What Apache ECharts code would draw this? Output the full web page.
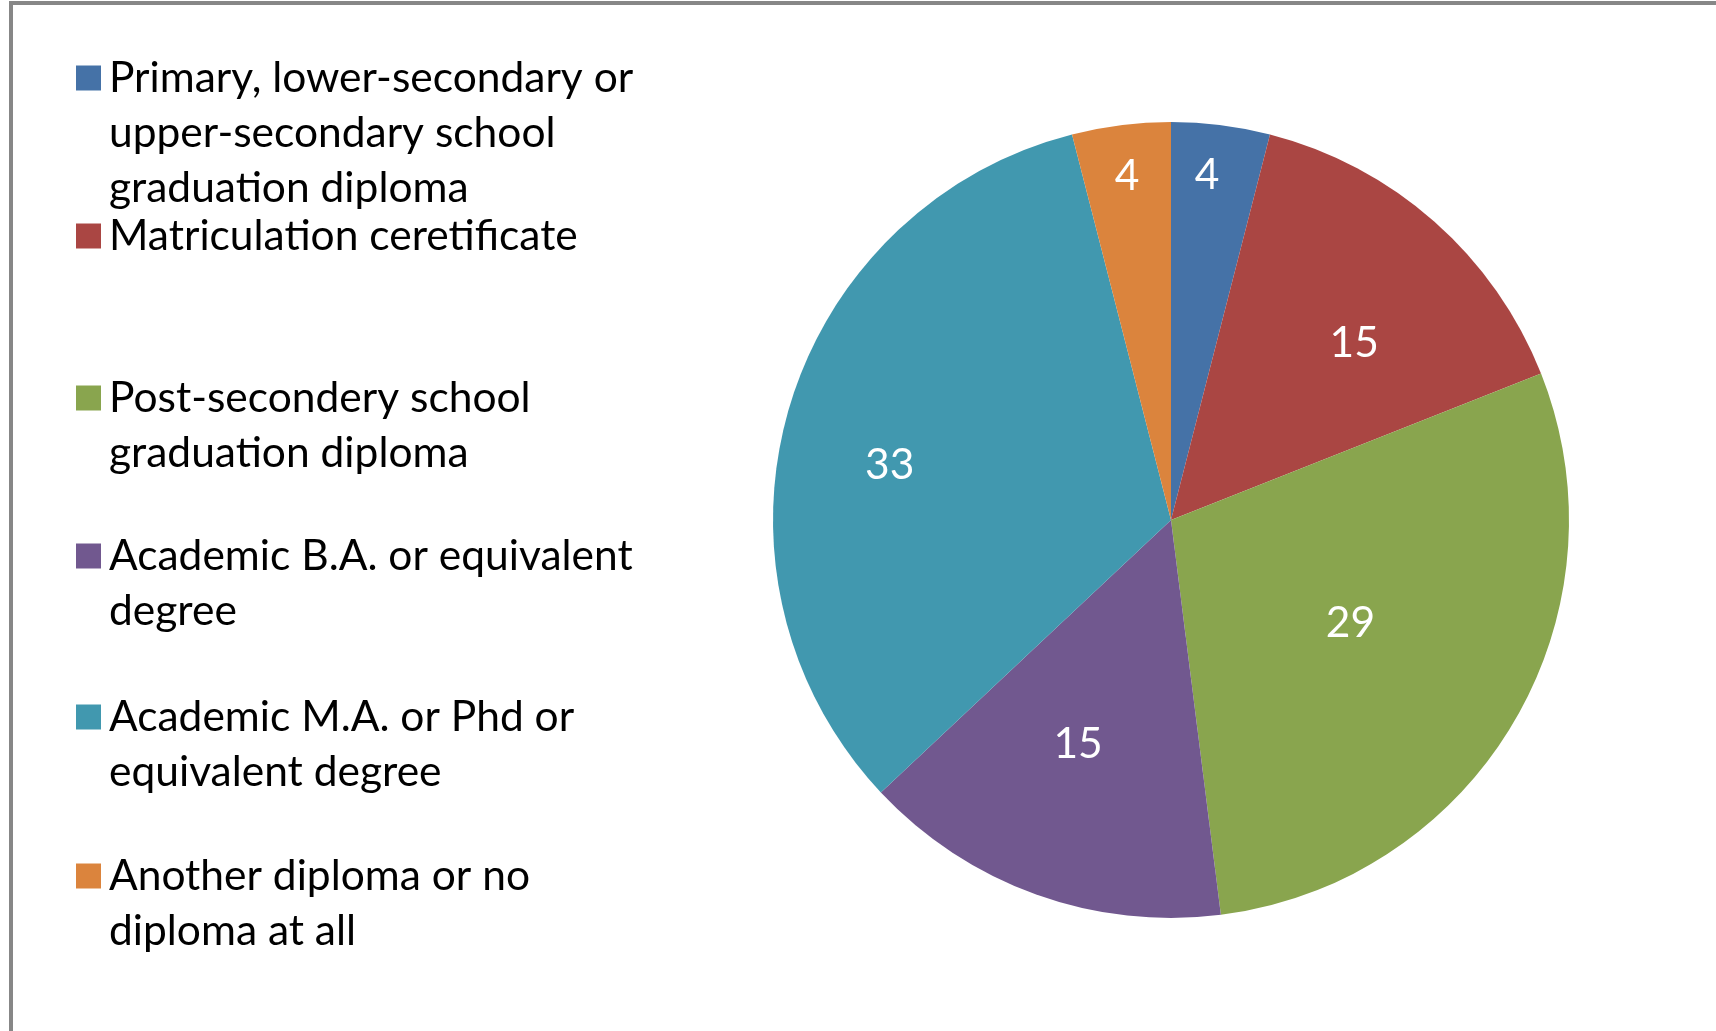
<!DOCTYPE html>
<html><head><meta charset="utf-8">
<script src="https://cdn.jsdelivr.net/npm/echarts@6/dist/echarts.min.js"></script>
<style>
html,body{margin:0;padding:0;background:#fff;overflow:hidden;}
#chart{position:absolute;left:0;top:0;width:1716px;height:1031px;}
#frame{position:absolute;left:9px;top:1px;width:1800px;height:1100px;border-left:4px solid #878787;border-top:4px solid #878787;pointer-events:none;}
</style></head><body><div id="chart"></div><div id="frame"></div>
<script>
// ---- data ----
const categories = [
  "Primary, lower-secondary or\nupper-secondary school\ngraduation diploma",
  "Matriculation ceretificate",
  "Post-secondery school\ngraduation diploma",
  "Academic B.A. or equivalent\ndegree",
  "Academic M.A. or Phd or\nequivalent degree",
  "Another diploma or no\ndiploma at all"
];
const values = [4, 15, 29, 15, 33, 4];

// ---- style ----
const colors = ["#4572A7", "#AA4643", "#89A54E", "#71588F", "#4198AF", "#DB843D"];
const FONT = "Lato";
const FS = 42.5;
const LH = 55;
const legendIconCenters = [78, 236, 398, 556, 717, 876];
const labelRadiusFrac = [0.87, 0.64, 0.52, 0.61, 0.72, 0.87];
const labelAngleShift = [-1.2, 4.6, -0.7, 2.7, -5.2, -0.1];
const CX = 1171, CY = 520, R = 398;

const total = values.reduce((a, b) => a + b, 0);
const cumBefore = values.map((v, i) => values.slice(0, i).reduce((a, b) => a + b, 0));

const legends = categories.map((name, i) => {
  const n = name.split("\n").length;
  const blockH = (2 * n - 1) * LH;
  return {
    data: [name],
    orient: "vertical",
    left: 76,
    top: legendIconCenters[i] - blockH / 2,
    padding: 0,
    itemWidth: 25,
    itemHeight: 25,
    icon: "rect",
    selectedMode: false,
    itemStyle: { borderWidth: 0 },
    // blank lines before the name keep the first text line level with the icon
    formatter: function (nm) { return "\n".repeat(n - 1) + nm; },
    textStyle: {
      fontFamily: FONT, fontSize: FS, color: "#000",
      lineHeight: LH, padding: [0, 0, 0, 3]
    }
  };
});

const chart = echarts.init(document.getElementById("chart"), null, { renderer: "canvas" });
chart.setOption({
  animation: false,
  backgroundColor: "#fff",
  legend: legends,
  series: [{
    type: "pie",
    center: [CX, CY],
    radius: R,
    startAngle: 90,
    clockwise: true,
    avoidLabelOverlap: false,
    itemStyle: { borderWidth: 0 },
    emphasis: { disabled: true },
    label: {
      show: true, position: "inside", formatter: "{c}",
      color: "#fff", fontFamily: FONT, fontSize: FS
    },
    labelLine: { show: false },
    labelLayout: function (p) {
      const i = p.dataIndex;
      const mid = (cumBefore[i] + values[i] / 2) / total * 360 + labelAngleShift[i];
      const a = mid * Math.PI / 180;
      const r = labelRadiusFrac[i] * R;
      return { x: CX + r * Math.sin(a), y: CY - r * Math.cos(a) };
    },
    data: categories.map((name, i) => ({ name: name, value: values[i], itemStyle: { color: colors[i] } }))
  }]
});
</script>
</body></html>
